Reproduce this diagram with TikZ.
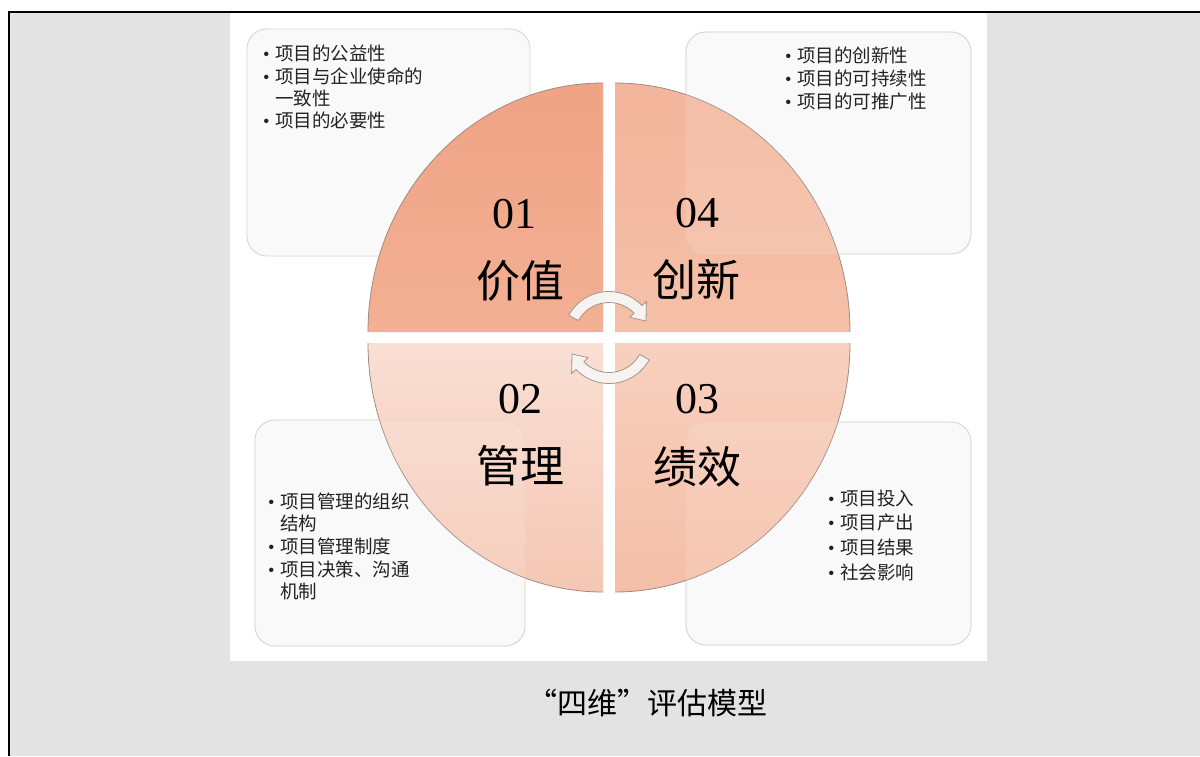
\documentclass[tikz,border=0pt]{standalone}
\usepackage{fontspec}
\newfontfamily\cjk{Noto Sans CJK SC}
\newfontfamily\digitfont{Liberation Serif}
\definecolor{pagegray}{HTML}{E3E3E3}
\definecolor{boxfill}{HTML}{FAF9F9}
\definecolor{boxline}{HTML}{E4D3C8}
\definecolor{arcline}{HTML}{9C8C84}
\definecolor{tlA}{HTML}{F0A385}
\definecolor{tlB}{HTML}{F3B094}
\definecolor{trA}{HTML}{F3B59B}
\definecolor{trB}{HTML}{F5C0A8}
\definecolor{blA}{HTML}{FADFD4}
\definecolor{blB}{HTML}{F5C7B3}
\definecolor{brA}{HTML}{F8D0BF}
\definecolor{brB}{HTML}{F4BEA6}
\definecolor{arrowfill}{HTML}{F7F3F1}
\definecolor{arrowline}{HTML}{A0958F}
\definecolor{itemcol}{HTML}{222222}
\newcommand\bul{\makebox[12pt][l]{\digitfont\textbullet}}
\begin{document}
\begin{tikzpicture}[x=1pt,y=-1pt,
  itemtext/.style={anchor=west, inner sep=0pt, text=itemcol,
    font=\cjk\fontsize{18.5}{18.5}\selectfont, text height=16.3pt, text depth=2.2pt},
  numtext/.style={anchor=base, inner sep=0pt, font=\digitfont\fontsize{44}{44}\selectfont},
  bigtext/.style={anchor=center, inner sep=0pt, font=\cjk\fontsize{44}{44}\selectfont,
    text height=38.7pt, text depth=5.3pt},
  infobox/.style={rounded corners=20pt, draw=boxline, line width=0.9pt, fill=boxfill},
  infoveil/.style={rounded corners=20pt, draw=boxline, draw opacity=0.45, line width=0.9pt,
    fill=white, fill opacity=0.12},
  arcedge/.style={draw=arcline, line width=0.8pt},
  turnarrow/.style={fill=arrowfill, draw=arrowline, line width=0.8pt, line join=round}
]
\useasboundingbox (0,0) rectangle (1200,756);
% page frame
\fill[white] (0,0) rectangle (1200,756);
\fill[pagegray] (9,12.5) rectangle (1200,756);
\draw[black, line width=2.2pt] (9.3,756) -- (9.3,12.3) -- (1200,12.3);
\fill[white] (230,12.8) rectangle (987,660.5);

% info boxes (base)
\path[infobox] (247,29) rectangle (530,256);
\path[infobox] (686,32) rectangle (971,254);
\path[infobox] (255,420) rectangle (525,646);
\path[infobox] (686,422) rectangle (971,645);

% quadrants
\shade[top color=tlA, bottom color=tlB] (603,332) -- (368,332) arc[start angle=180, end angle=270, x radius=235, y radius=249] -- cycle;
\shade[top color=trA, bottom color=trB] (615,332) -- (850,332) arc[start angle=360, end angle=270, x radius=235, y radius=249] -- cycle;
\shade[top color=blA, bottom color=blB] (603,343) -- (368,343) arc[start angle=180, end angle=90, x radius=235, y radius=249] -- cycle;
\shade[top color=brA, bottom color=brB] (615,343) -- (850,343) arc[start angle=0, end angle=90, x radius=235, y radius=249] -- cycle;
\draw[arcedge] (368,332) arc[start angle=180, end angle=270, x radius=235, y radius=249];
\draw[arcedge] (850,332) arc[start angle=360, end angle=270, x radius=235, y radius=249];
\draw[arcedge] (368,343) arc[start angle=180, end angle=90, x radius=235, y radius=249];
\draw[arcedge] (850,343) arc[start angle=0, end angle=90, x radius=235, y radius=249];

% veils of the boxes over the circle
\path[infoveil] (686,32) rectangle (971,254);
\path[infoveil] (255,420) rectangle (525,646);
\path[infoveil] (686,422) rectangle (971,645);

% turning arrows in the middle
\begin{scope}[shift={(609,337.5)}]
  \path[turnarrow] (209:46) arc[start angle=209, end angle=316, radius=46] -- (316:52) -- (336:40.5) -- (316:29) -- (316:35) arc[start angle=316, end angle=209, radius=35] -- cycle;
  \path[turnarrow] (29:46) arc[start angle=29, end angle=136, radius=46] -- (136:52) -- (156:40.5) -- (136:29) -- (136:35) arc[start angle=136, end angle=29, radius=35] -- cycle;
\end{scope}

% big labels
\node[numtext] (n01) at (514,228) {01};
\node[bigtext] (l01) at (520,281) {价值};
\node[numtext] (n04) at (697,227) {04};
\node[bigtext] (l04) at (696,280) {创新};
\node[numtext] (n02) at (520,413) {02};
\node[bigtext] (l02) at (520,466) {管理};
\node[numtext] (n03) at (697,413) {03};
\node[bigtext] (l03) at (697,467) {绩效};

% top-left box items
\node[itemtext] (tl1) at (263,53) {\bul 项目的公益性};
\node[itemtext] (tl2) at (263,76) {\bul 项目与企业使命的};
\node[itemtext] (tl3) at (275,98) {一致性};
\node[itemtext] (tl4) at (263,120) {\bul 项目的必要性};

% top-right box items
\node[itemtext] (tr1) at (785,55) {\bul 项目的创新性};
\node[itemtext] (tr2) at (785,78) {\bul 项目的可持续性};
\node[itemtext] (tr3) at (785,101) {\bul 项目的可推广性};

% bottom-left box items
\node[itemtext] (bl1) at (268,501) {\bul 项目管理的组织};
\node[itemtext] (bl2) at (280,523) {结构};
\node[itemtext] (bl3) at (268,546) {\bul 项目管理制度};
\node[itemtext] (bl4) at (268,569) {\bul 项目决策、沟通};
\node[itemtext] (bl5) at (280,591) {机制};

% bottom-right box items
\node[itemtext] (br1) at (828,498) {\bul 项目投入};
\node[itemtext] (br2) at (828,522) {\bul 项目产出};
\node[itemtext] (br3) at (828,547) {\bul 项目结果};
\node[itemtext] (br4) at (828,572) {\bul 社会影响};

% caption
\node[anchor=center, inner sep=0pt, font=\cjk\fontsize{30}{30}\selectfont,
  text height=26.4pt, text depth=3.6pt] (cap) at (647,703) {“四维”评估模型};
\end{tikzpicture}
\end{document}
